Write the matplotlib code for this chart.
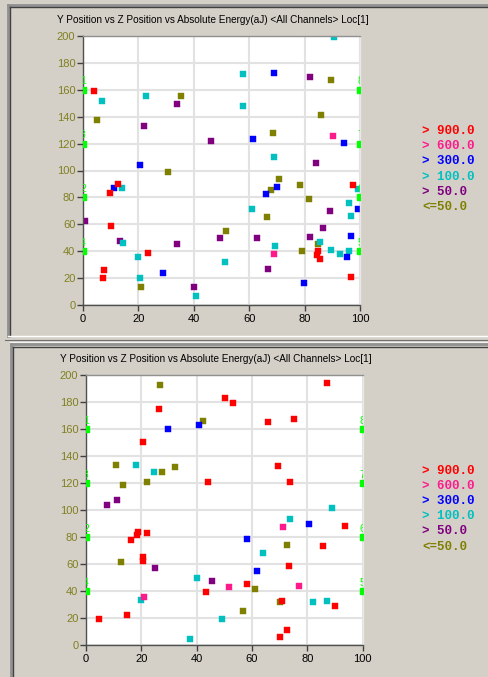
import numpy as np
import matplotlib.pyplot as plt

plt.rcParams['font.family'] = ['Liberation Sans', 'DejaVu Sans']

BG = '#d4d0c8'
TITLE = 'Y Position vs Z Position vs Absolute Energy(aJ) <All Channels> Loc[1]'

# energy bins: label / colour, index used in the *_bin lists below
bin_labels = ['> 900.0', '> 600.0', '> 300.0', '> 100.0', '> 50.0', '<=50.0']
bin_colors = ['#ff0000', '#ff1a8c', '#0000ff', '#00c0c0', '#800080', '#808000']

# sensor positions on the two side walls
sensor_y = [40, 80, 120, 160]
sensor_left = ['4', '2', '3', '1']
sensor_right = ['5', '6', '7', '8']

# upper plot: Z position, Y position, energy bin
top_z = [4.0, 12.8, 9.8, 10.1, 23.5, 7.7, 7.3, 97.5, 84.8, 84.5, 85.6, 96.9,
         90.4, 68.8,
         20.7, 11.1, 29.0, 68.8, 61.4, 94.1, 70.1, 66.0, 99.2, 96.9, 95.3, 79.7,
         7.0, 22.8, 57.6, 57.6, 13.9, 14.6, 20.0, 51.4, 20.7, 40.7, 90.6, 69.0,
         99.3, 96.2, 61.1, 96.9, 85.6, 69.4, 89.7, 92.7, 96.2,
         33.9, 22.0, 46.1, 0.6, 49.3, 13.5, 33.9, 40.0, 82.1, 84.1, 89.0, 86.6,
         62.9, 82.1, 66.7,
         4.9, 35.5, 30.7, 51.7, 21.1, 89.7, 85.8, 68.6, 70.8, 78.4, 68.0, 81.7,
         66.3, 84.8, 78.9]
top_y = [159.1, 90.2, 83.3, 58.7, 38.4, 25.8, 20.1, 89.0, 40.4, 36.9, 34.0, 20.8,
         125.4, 37.7,
         104.3, 86.7, 23.5, 172.5, 123.4, 120.4, 87.5, 82.5, 71.4, 51.5, 35.4, 16.6,
         151.9, 155.4, 171.5, 148.0, 86.7, 46.1, 35.4, 32.0, 20.1, 6.7, 199.0, 110.0,
         86.0, 76.1, 71.4, 66.4, 46.8, 43.9, 41.1, 37.7, 40.4,
         149.2, 133.1, 121.7, 62.2, 49.6, 47.6, 45.4, 13.1, 169.8, 105.8, 69.9, 57.3,
         49.6, 50.3, 26.5,
         137.3, 155.4, 98.6, 55.3, 13.6, 167.5, 141.5, 127.6, 93.7, 89.0, 85.3, 79.1,
         65.7, 45.4, 40.4]
top_bin = [0] * 12 + [1] * 2 + [2] * 12 + [3] * 21 + [4] * 15 + [5] * 15

# lower plot
bot_z = [26.5, 50.2, 53.3, 20.7, 44.0, 16.1, 18.6, 18.9, 22.0, 20.7, 20.7, 58.1,
         43.4, 4.8, 14.8, 87.2, 65.7, 75.3, 69.3, 73.9, 93.7, 85.8, 73.3, 70.7,
         89.9, 72.7, 70.0,
         51.6, 21.1, 71.1, 76.9,
         40.8, 29.6, 58.1, 80.7, 61.9,
         18.2, 24.7, 40.1, 20.0, 49.2, 37.5, 89.0, 73.9, 63.9, 82.2, 87.2,
         11.3, 7.6, 25.1, 45.7,
         26.9, 42.3, 10.7, 32.3, 27.6, 13.5, 22.0, 12.8, 56.6, 72.5, 61.1, 70.0]
bot_y = [174.6, 183.0, 179.5, 150.6, 120.5, 77.5, 81.7, 83.7, 83.2, 64.9, 62.5, 45.4,
         39.0, 19.5, 22.2, 194.3, 165.4, 167.4, 132.3, 120.5, 88.1, 73.3, 58.5, 32.6,
         28.6, 11.1, 6.2,
         43.2, 35.6, 87.4, 44.0,
         162.7, 159.8, 78.3, 89.6, 54.6,
         133.1, 128.1, 49.4, 33.3, 19.5, 4.7, 101.5, 93.1, 67.9, 32.1, 32.8,
         107.7, 103.5, 57.3, 47.4,
         192.8, 166.2, 133.1, 131.6, 128.1, 118.3, 120.5, 61.5, 24.9, 74.1, 41.2, 31.9]
bot_bin = [0] * 27 + [1] * 4 + [2] * 5 + [3] * 11 + [4] * 4 + [5] * 12


def draw_panel(ax, z, y, bins):
    z = np.array(z)
    y = np.array(y)
    bins = np.array(bins)
    ax.set_facecolor('white')
    ax.set_xlim(0, 100)
    ax.set_ylim(0, 200)
    ax.set_xticks(np.arange(0, 101, 20))
    ax.set_yticks(np.arange(0, 201, 20))
    ax.grid(True, color='#e2e2e2', lw=1.5)
    ax.set_axisbelow(True)

    # low energy first so the strong hits sit on top
    for b in range(5, -1, -1):
        sel = bins == b
        ax.plot(z[sel], y[sel], 's', ms=3.8, color=bin_colors[b],
                mec=bin_colors[b], mew=0.3, ls='none')

    for x, ids in ((0, sensor_left), (100, sensor_right)):
        ax.plot([x] * len(sensor_y), sensor_y, 's', ms=4.8, color='#00ff00',
                ls='none', zorder=5)
        for sy, s in zip(sensor_y, ids):
            ax.text(x, sy + 2.5, s, color='#00ff00', fontsize=7.5,
                    ha='center', va='bottom', clip_on=True, zorder=5)

    ax.tick_params(direction='out', length=4, width=1, color='#404040',
                   labelsize=8)
    ax.tick_params(axis='y', labelcolor='#808020', pad=1.5)
    ax.tick_params(axis='x', labelcolor='black', pad=2.5)
    ax.spines['left'].set_color('#505050')
    ax.spines['bottom'].set_color('#505050')
    ax.spines['top'].set_color('#909090')
    ax.spines['right'].set_color('#e8e8e8')
    for sp in ax.spines.values():
        sp.set_linewidth(1)


W, H = 489, 677
fig = plt.figure(figsize=(W / 100, H / 100), dpi=100, facecolor=BG)

# window frames, drawn in pixel units on a full-figure axes
frame = fig.add_axes([0, 0, 1, 1], zorder=-1)
frame.set_xlim(0, W)
frame.set_ylim(H, 0)
frame.axis('off')
frame.set_facecolor(BG)
frame.plot([7.5, W], [4.5, 4.5], color='#909090', lw=2)
frame.plot([7.5, 7.5], [4.5, 336], color='#909090', lw=2)
frame.plot([9.5, W], [7, 7], color='#404040', lw=1)
frame.plot([9.5, 9.5], [7, 336], color='#404040', lw=1)
frame.plot([8, W], [336, 336], color='white', lw=1)
frame.plot([5, W], [339.5, 339.5], color='#707070', lw=0.8)
frame.plot([10, W], [341.5, 341.5], color='#f4f4f4', lw=1)
frame.plot([10.5, W], [344, 344], color='#909090', lw=2)
frame.plot([10.5, 10.5], [344, H], color='#909090', lw=2)
frame.plot([12.5, W], [346.5, 346.5], color='#404040', lw=1)
frame.plot([12.5, 12.5], [346.5, H], color='#404040', lw=1)

ax_top = fig.add_axes([83 / W, 1 - 305 / H, 277 / W, 269 / H])
ax_bot = fig.add_axes([86 / W, 1 - 645 / H, 276.7 / W, 270 / H])
draw_panel(ax_top, top_z, top_y, top_bin)
draw_panel(ax_bot, bot_z, bot_y, bot_bin)

fig.text(57 / W, 1 - 20 / H, TITLE, fontsize=7.2, va='center', ha='left')
fig.text(60 / W, 1 - 359 / H, TITLE, fontsize=7.2, va='center', ha='left')

# energy legend to the right of each plot
for y0 in (131, 470.5):
    for i, (lab, col) in enumerate(zip(bin_labels, bin_colors)):
        fig.text(422 / W, 1 - (y0 + i * 15.2) / H, lab, color=col,
                 fontsize=9, family='Liberation Mono', weight='bold',
                 va='center', ha='left')

fig.savefig('out.png', dpi=100, facecolor=BG)
